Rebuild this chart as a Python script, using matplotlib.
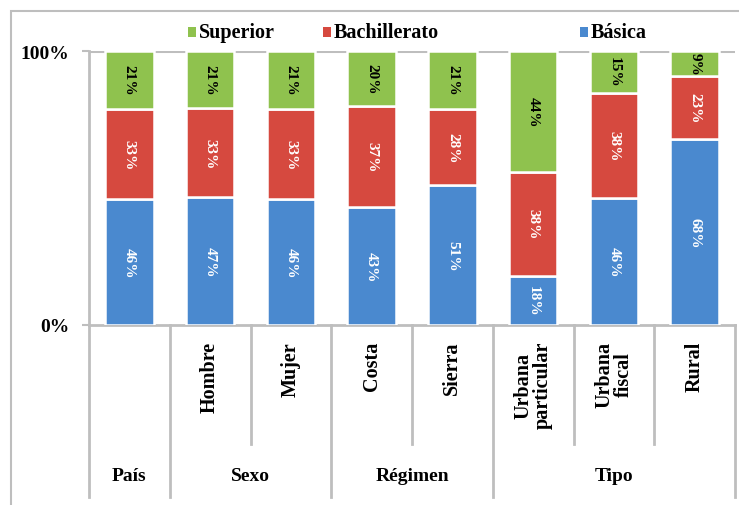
import matplotlib
import numpy as np

matplotlib.use("Agg")
import matplotlib.pyplot as plt
from matplotlib.patches import Rectangle
from matplotlib.transforms import blended_transform_factory

categories = ["", "Hombre", "Mujer", "Costa", "Sierra",
              "Urbana\nparticular", "Urbana\nfiscal", "Rural"]
groups = ["País", "Sexo", "Régimen", "Tipo"]
group_sizes = [1, 2, 2, 3]

basica = [46, 47, 46, 43, 51, 18, 46, 68]
bachillerato = [33, 33, 33, 37, 28, 38, 38, 23]
superior = [21, 21, 21, 20, 21, 44, 15, 9]

SERIES = [
    ("Básica", basica, "#4A89CF", "white"),
    ("Bachillerato", bachillerato, "#D6493F", "white"),
    ("Superior", superior, "#8FC24E", "black"),
]
GRID = "#BEBEBE"

plt.rcParams["font.family"] = ["Liberation Serif", "DejaVu Serif"]
plt.rcParams["font.weight"] = "bold"

fig = plt.figure(figsize=(7.39, 5.06), dpi=100)
ax = fig.add_axes([89 / 739, 180 / 506, 646 / 739, 274 / 506])

x = np.arange(len(categories))
totals = np.array(basica) + np.array(bachillerato) + np.array(superior)
bottom = np.zeros(len(categories))
for name, values, color, txt_color in SERIES:
    share = np.array(values) / totals * 100
    ax.bar(x, share, width=0.6, bottom=bottom, color=color,
           edgecolor="white", linewidth=1.8, zorder=3)
    for xi, b, h, v in zip(x, bottom, share, values):
        ax.text(xi, b + h / 2, f"{v}%", rotation=270, ha="center", va="center",
                color=txt_color, fontsize=11, fontweight="bold", zorder=4)
    bottom += share

ax.set_xlim(-0.5, 7.5)
ax.set_ylim(0, 100)
ax.set_yticks([0, 100])
ax.set_yticklabels(["0%", "100%"], fontsize=14, fontweight="bold")
ax.set_xticks([])
ax.tick_params(axis="y", length=5, width=1.5, color=GRID, pad=9)
ax.axhline(100, color=GRID, linewidth=2.2, zorder=1)
for side in ["top", "right"]:
    ax.spines[side].set_visible(False)
for side in ["left", "bottom"]:
    ax.spines[side].set_color(GRID)
    ax.spines[side].set_linewidth(2)

# multi-level category axis
trans = blended_transform_factory(ax.transData, ax.transAxes)
for xb in [1.5, 3.5, 5.5, 6.5]:
    ax.plot([xb, xb], [0, -0.434], color=GRID, lw=2, transform=trans, clip_on=False)
edges = np.concatenate([[0], np.cumsum(group_sizes)]) - 0.5
for xb in edges:
    ax.plot([xb, xb], [0, -0.628], color=GRID, lw=2, transform=trans, clip_on=False)
for xi, label in zip(x, categories):
    if label:
        ax.text(xi, -0.058, label, rotation=90, ha="center", va="top",
                fontsize=14.5, fontweight="bold", linespacing=0.95,
                transform=trans)
for g, a, b in zip(groups, edges[:-1], edges[1:]):
    ax.text((a + b) / 2, -0.548, g, ha="center", va="center",
            fontsize=14, fontweight="bold", transform=trans)

# legend
legend_items = [("Superior", 188), ("Bachillerato", 323), ("Básica", 580)]
colors = {name: color for name, _, color, _ in SERIES}
for name, px in legend_items:
    fig.patches.append(Rectangle((px / 739, (506 - 38) / 506), 8 / 739, 10 / 506,
                                 transform=fig.transFigure,
                                 facecolor=colors[name], edgecolor="none"))
    fig.text((px + 11) / 739, (506 - 33) / 506, name, ha="left", va="center",
             fontsize=14.5, fontweight="bold")

# outer frame
fig.patches.append(Rectangle((11 / 739, -0.05), 1.2, (506 - 12) / 506 + 0.05,
                             transform=fig.transFigure, facecolor="none",
                             edgecolor=GRID, linewidth=1.5))

fig.savefig("out.png", dpi=100)
plt.close(fig)
